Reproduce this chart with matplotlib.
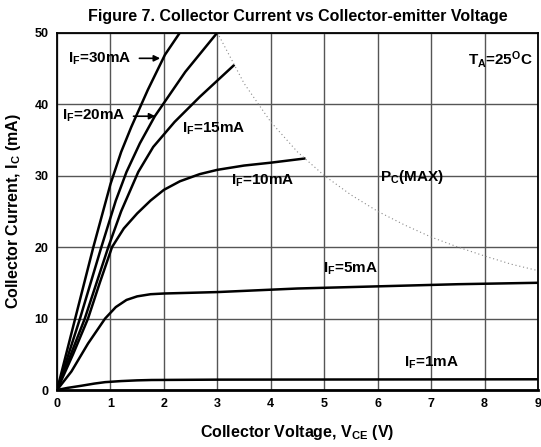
import matplotlib
matplotlib.use("Agg")
import matplotlib.pyplot as plt

# 字型：類 Arial 粗體
plt.rcParams['font.family'] = ['Liberation Sans', 'DejaVu Sans']
plt.rcParams['font.weight'] = 'bold'
plt.rcParams['mathtext.fontset'] = 'custom'
plt.rcParams['mathtext.rm'] = 'Liberation Sans:bold'
plt.rcParams['mathtext.it'] = 'Liberation Sans:bold'
plt.rcParams['mathtext.bf'] = 'Liberation Sans:bold'

# 曲線資料 (V_CE, I_C)
vce_30 = [0, 0.34, 0.68, 1.0, 1.2, 1.39, 1.7, 2.02, 2.3]
ic_30 = [0, 10, 20, 28.8, 33.3, 36.8, 42, 46.9, 50]

vce_20 = [0, 0.43, 0.83, 1.1, 1.3, 1.55, 1.83, 2.4, 3.0]
ic_20 = [0, 10, 20, 26.5, 30.5, 34.5, 38.3, 44.5, 50]

vce_15 = [0, 0.52, 0.96, 1.2, 1.52, 1.8, 2.2, 2.67, 3.32]
ic_15 = [0, 10, 20, 25, 30.5, 34, 37.5, 41, 45.5]

vce_10 = [0, 0.3, 0.58, 0.8, 1.03, 1.25, 1.5, 1.75, 2.0, 2.3, 2.67, 3.0, 3.5, 4.0, 4.65]
ic_10 = [0, 5, 10, 15, 20, 22.6, 24.7, 26.5, 28, 29.2, 30.2, 30.8, 31.4, 31.8, 32.4]

vce_5 = [0, 0.27, 0.58, 0.9, 1.1, 1.3, 1.5, 1.75, 2.0, 2.5, 3, 4.5, 6, 7.5, 9]
ic_5 = [0, 2.6, 6.5, 10, 11.6, 12.6, 13.1, 13.4, 13.5, 13.6, 13.7, 14.2, 14.5, 14.8, 15.0]

vce_1 = [0, 0.2, 0.46, 0.7, 0.9, 1.2, 1.5, 1.77, 3, 9]
ic_1 = [0, 0.3, 0.6, 0.9, 1.1, 1.25, 1.35, 1.4, 1.45, 1.5]

# Pc(MAX) 曲線
vce_pc = [3.0, 3.5, 4.0, 4.5, 5.0, 5.5, 6.0, 6.5, 7.0, 7.5, 8.0, 8.5, 9.0]
ic_pc = [50, 42.9, 37.5, 33.3, 30, 27.3, 25, 23.1, 21.4, 20, 18.75, 17.6, 16.7]

x_ticks = [0, 1, 2, 3, 4, 5, 6, 7, 8, 9]
y_ticks = [0, 10, 20, 30, 40, 50]

fig = plt.figure(figsize=(5.41, 4.47), dpi=100)
ax = fig.add_axes([0.1054, 0.1275, 0.889, 0.7996])

curves = [(vce_30, ic_30), (vce_20, ic_20), (vce_15, ic_15),
          (vce_10, ic_10), (vce_5, ic_5), (vce_1, ic_1)]
for vx, iy in curves:
    ax.plot(vx, iy, color='black', linewidth=1.8, solid_capstyle='butt',
            solid_joinstyle='round')

ax.plot(vce_pc, ic_pc, color='#8a8a8a', linewidth=0.8, linestyle=(0, (1, 2.5)))

ax.set_xlim(0, 9)
ax.set_ylim(0, 50)
ax.set_xticks(x_ticks)
ax.set_yticks(y_ticks)
ax.tick_params(length=0, labelsize=9, pad=6)
for lab in ax.get_xticklabels() + ax.get_yticklabels():
    lab.set_fontweight('bold')
ax.grid(True, color='#555555', linewidth=1.0)
ax.set_axisbelow(True)
for s in ax.spines.values():
    s.set_linewidth(1.3)
ax.spines['bottom'].set_linewidth(2)

ax.set_title('Figure 7. Collector Current vs Collector-emitter Voltage',
             fontsize=11.5, fontweight='bold', pad=8)
ax.set_xlabel('Collector Voltage, V$_\\mathrm{CE}$ (V)', fontsize=11.5, fontweight='bold', labelpad=9)
ax.set_ylabel('Collector Current, I$_\\mathrm{C}$ (mA)', fontsize=11.5, fontweight='bold', labelpad=8)

fs = 11
ax.annotate('I$_\\mathrm{F}$=30mA', xy=(1.93, 46.4), xytext=(0.2, 46.4),
            fontsize=fs, fontweight='bold', va='center',
            arrowprops=dict(arrowstyle='-|>', color='black', lw=1.2, mutation_scale=9,
                            shrinkA=4, shrinkB=0))
ax.annotate('I$_\\mathrm{F}$=20mA', xy=(1.84, 38.3), xytext=(0.09, 38.3),
            fontsize=fs, fontweight='bold', va='center',
            arrowprops=dict(arrowstyle='-|>', color='black', lw=1.2, mutation_scale=9,
                            shrinkA=4, shrinkB=0))
ax.text(2.33, 36.6, 'I$_\\mathrm{F}$=15mA', fontsize=fs, fontweight='bold', va='center')
ax.text(3.25, 29.3, 'I$_\\mathrm{F}$=10mA', fontsize=fs, fontweight='bold', va='center')
ax.text(6.05, 29.8, 'P$_\\mathrm{C}$(MAX)', fontsize=fs, fontweight='bold', va='center')
ax.text(4.97, 16.9, 'I$_\\mathrm{F}$=5mA', fontsize=fs, fontweight='bold', va='center')
ax.text(6.5, 3.8, 'I$_\\mathrm{F}$=1mA', fontsize=fs, fontweight='bold', va='center')
ax.text(8.9, 46.2, 'T$_\\mathrm{A}$=25$^\\mathrm{O}$C', fontsize=fs, fontweight='bold',
        va='center', ha='right')

fig.savefig('out.png', dpi=100)
